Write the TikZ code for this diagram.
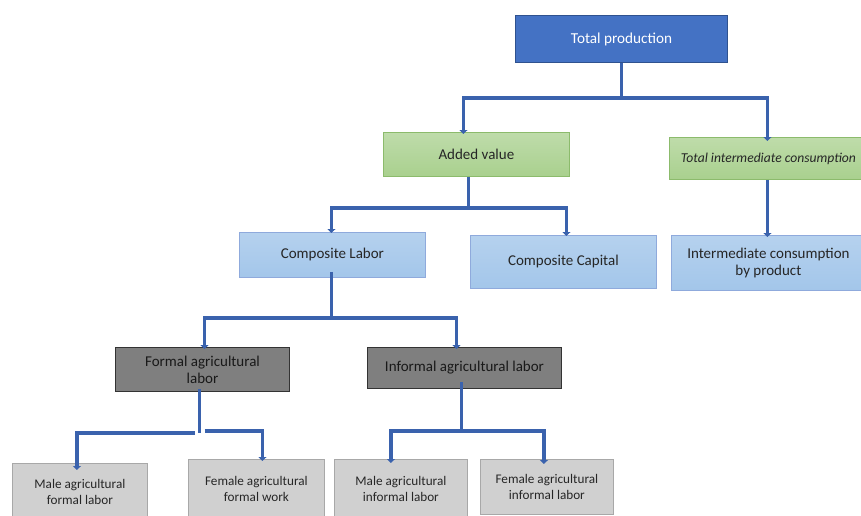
\documentclass[tikz,border=0pt]{standalone}
\usepackage{fontspec}
\setmainfont{Carlito}
\usetikzlibrary{arrows.meta,calc}
\definecolor{tpblue}{HTML}{4472C4}
\definecolor{tpborder}{HTML}{2F528F}
\definecolor{gfill}{HTML}{A9D08E}
\definecolor{gborder}{HTML}{8CBB6C}
\definecolor{bfill}{HTML}{A3C6EA}
\definecolor{bborder}{HTML}{8FAADC}
\definecolor{dgfill}{HTML}{7F7F7F}
\definecolor{lgfill}{HTML}{D0D0D0}
\definecolor{lgborder}{HTML}{A8A8A8}
\definecolor{conncol}{HTML}{3A62AD}
\tikzset{
  box/.style={rectangle, inner sep=2pt, align=center, anchor=north west},
  topbox/.style={box, fill=tpblue, draw=tpborder, line width=1pt, text=white, font=\fontsize{15.2}{17}\selectfont},
  greenbox/.style={box, top color=gfill!75!white, bottom color=gfill, draw=gborder, line width=0.8pt, text=black!85, font=\fontsize{15}{17}\selectfont},
  bluebox/.style={box, top color=bfill!80!white, bottom color=bfill, draw=bborder, line width=0.8pt, text=black!85, font=\fontsize{15}{17}\selectfont},
  darkbox/.style={box, fill=dgfill, draw=black!80, line width=1pt, text=black!90, font=\fontsize{15}{17}\selectfont},
  lightbox/.style={box, fill=lgfill, draw=lgborder, line width=0.8pt, text=black!85, font=\fontsize{13.2}{16}\selectfont},
  conn/.style={draw=conncol, line width=3.5pt, -{Triangle[width=8pt,length=4pt]}},
  trunk/.style={draw=conncol, line width=3.5pt},
}
\begin{document}
\begin{tikzpicture}[x=1pt,y=-1pt]
\useasboundingbox (0,0) rectangle (861,516);
% nodes
\node[topbox, minimum width=212pt, minimum height=47pt] (tp) at (515,15) {Total production};
\node[greenbox, minimum width=186pt, minimum height=44pt] (av) at (383,132) {Added value};
\node[greenbox, minimum width=198pt, minimum height=42pt, font=\fontsize{13.6}{16}\selectfont\itshape] (tic) at (669,137) {Total intermediate consumption};
\node[bluebox, minimum width=186pt, minimum height=45pt] (cl) at (239,232) {Composite Labor};
\node[bluebox, minimum width=186pt, minimum height=53pt] (cc) at (470,235) {Composite Capital};
\node[bluebox, minimum width=194pt, minimum height=55pt] (icp) at (671,235) {Intermediate consumption\\by product};
\node[darkbox, minimum width=174pt, minimum height=44pt] (fal) at (115,347) {Formal agricultural\\labor};
\node[darkbox, minimum width=194pt, minimum height=41pt] (ial) at (367,347) {Informal agricultural labor};
\node[lightbox, minimum width=135pt, minimum height=58pt] (maf) at (12,463) {Male agricultural\\formal labor};
\node[lightbox, minimum width=136pt, minimum height=60pt] (faf) at (188,459) {Female agricultural\\formal work};
\node[lightbox, minimum width=133pt, minimum height=60pt] (mai) at (334,459) {Male agricultural\\informal labor};
\node[lightbox, minimum width=133pt, minimum height=55pt] (fai) at (480,459) {Female agricultural\\informal labor};
% junctions
\coordinate (j1) at ($(tp.south)+(0,35)$);
\coordinate (j2) at ($(av.south)+(-8,31)$);
\coordinate (j3) at ($(cl.south)+(-1,40)$);
\coordinate (j4) at ($(fal.south)+(-3,41)$);
\coordinate (j5) at ($(ial.south)+(-3,42)$);
% connectors
\draw[trunk] (tp.south) -- (j1);
\draw[conn] (j1) -| ([xshift=-13pt,yshift=-2pt]av.north);
\draw[conn] (j1) -| ([xshift=-1pt,yshift=-4pt]tic.north);
\draw[trunk] ([xshift=-8pt]av.south) -- (j2);
\draw[conn] (j2) -| ([xshift=-1pt,yshift=-1pt]cl.north);
\draw[conn] (j2) -| ([xshift=3pt,yshift=-1pt]cc.north);
\draw[conn] ([xshift=-1pt]tic.south) -- ([xshift=-1pt,yshift=-2pt]icp.north);
\draw[trunk] ([xshift=-1pt,yshift=6pt]cl.south) -- (j3);
\draw[conn] (j3) -| ([xshift=2pt,yshift=-2pt]fal.north);
\draw[conn] (j3) -| ([xshift=-8pt,yshift=-2pt]ial.north);
\draw[trunk] ([xshift=-3pt,yshift=3pt]fal.south) -- (j4);
\draw[conn] ([xshift=-5pt]j4) -| ([xshift=-3pt,yshift=-7pt]maf.north);
\draw[conn] ([xshift=5pt,yshift=2pt]j4) -| ([xshift=6pt,yshift=-2pt]faf.north);
\draw[trunk] ([xshift=-3pt,yshift=7pt]ial.south) -- (j5);
\draw[conn] (j5) -| ([xshift=-10pt,yshift=-4pt]mai.north);
\draw[conn] (j5) -| ([xshift=-3pt,yshift=-5pt]fai.north);
\end{tikzpicture}
\end{document}
